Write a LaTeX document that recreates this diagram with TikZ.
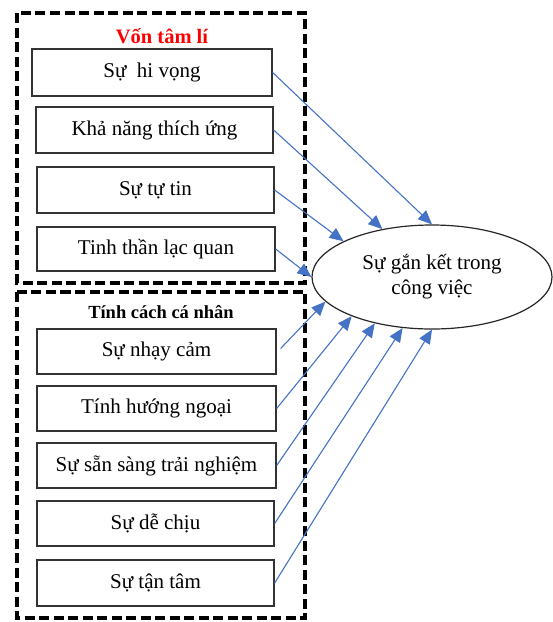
\documentclass[tikz,border=0pt]{standalone}
\usepackage{fontspec}
\setmainfont{Liberation Serif}
\usetikzlibrary{shapes.geometric,arrows.meta}
\definecolor{arrowblue}{HTML}{4472C4}
\definecolor{titlered}{HTML}{FF0000}
\tikzset{
  itembox/.style={draw=black!80, line width=1.3pt, minimum height=46pt, inner sep=0pt, font=\fontsize{21}{25}\selectfont},
  groupbox/.style={draw=black, line width=3.5pt, dash pattern=on 10pt off 4.5pt},
  link/.style={draw=arrowblue, line width=1.1pt, -{Triangle[length=14pt,width=12pt]}},
}
\begin{document}
\begin{tikzpicture}[x=1pt,y=-1pt]
\useasboundingbox (0,0) rectangle (553,622);
\draw[groupbox] (17,13) rectangle (305,283);
\draw[groupbox] (17,292) rectangle (305,618);
\node[font=\fontsize{20.5}{24}\selectfont\bfseries, text=titlered] (t1) at (162,36) {Vốn tâm lí};
\node[font=\fontsize{18.5}{22}\selectfont\bfseries] (t2) at (161,312) {Tính cách cá nhân};
\node[itembox, minimum width=240pt, minimum height=47pt] (b1) at (152,72.5) {Sự\ \ hi vọng};
\node[itembox, minimum width=237pt] (b2) at (154.5,130) {Khả năng thích ứng};
\node[itembox, minimum width=237pt] (b3) at (155.5,190) {Sự tự tin};
\node[itembox, minimum width=238pt, minimum height=44pt] (b4) at (156,249) {Tinh thần lạc quan};
\node[itembox, minimum width=239pt, minimum height=45pt] (b5) at (156.5,351.5) {Sự nhạy cảm};
\node[itembox, minimum width=239pt, minimum height=45pt] (b6) at (156.5,408.5) {Tính hướng ngoại};
\node[itembox, minimum width=239pt, minimum height=45pt] (b7) at (156.5,465.5) {Sự sẵn sàng trải nghiệm};
\node[itembox, minimum width=237pt, minimum height=45pt] (b8) at (155.5,523.5) {Sự dễ chịu};
\node[itembox, minimum width=237pt] (b9) at (155.5,583) {Sự tận tâm};
\node[draw=black!85, line width=1.2pt, ellipse, minimum width=240pt, minimum height=104pt, inner sep=0pt, align=center, font=\fontsize{21}{25}\selectfont] (e) at (432,277) {Sự gắn kết trong\\công việc};
\draw[link] (b1.east) -- (e.90);
\draw[link] (b2.east) -- (e.136);
\draw[link] (b3.east) -- (e.158);
\draw[link] (b4.east) -- (e.180);
\draw[link] ([xshift=4pt,yshift=3pt]b5.east) -- (e.193);
\draw[link] (b6.east) -- (e.206);
\draw[link] (b7.east) -- (e.219);
\draw[link] (b8.east) -- (e.240);
\draw[link] (b9.east) -- (e.270);
\end{tikzpicture}
\end{document}
